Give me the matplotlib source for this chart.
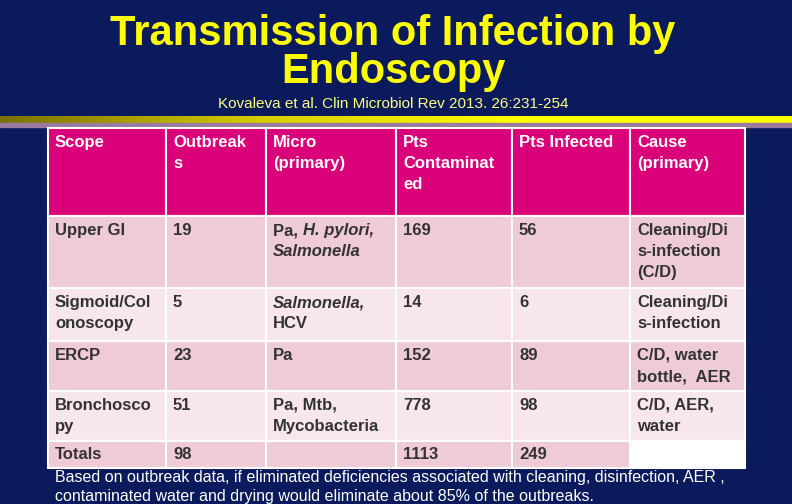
import matplotlib.pyplot as plt
from matplotlib.patches import Rectangle
from matplotlib.colors import LinearSegmentedColormap
import numpy as np

plt.rcParams['font.family'] = ['Liberation Sans', 'DejaVu Sans']

titulo = "Transmission of Infection by\nEndoscopy"
subtitulo = "Kovaleva et al. Clin Microbiol Rev 2013. 26:231-254"
cabecera = ["Scope", "Outbreak\ns", "Micro\n(primary)", "Pts\nContaminat\ned", "Pts Infected", "Cause\n(primary)"]
# cada celda con cursiva: lista de líneas con piezas (texto, cursiva)
filas = [
    ["Upper GI", "19", [[("Pa, ", 0), ("H. pylori,", 1)], [("Salmonella", 1)]], "169", "56", "Cleaning/Di\ns-infection\n(C/D)"],
    ["Sigmoid/Col\nonoscopy", "5", [[("Salmonella,", 1)], [("HCV", 0)]], "14", "6", "Cleaning/Di\ns-infection"],
    ["ERCP", "23", [[("Pa", 0)]], "152", "89", "C/D, water\nbottle,  AER"],
    ["Bronchosco\npy", "51", [[("Pa, Mtb,", 0)], [("Mycobacteria", 0)]], "778", "98", "C/D, AER,\nwater"],
    ["Totals", "98", "", "1113", "249", ""],
]
nota = ("Based on outbreak data, if eliminated deficiencies associated with cleaning, disinfection, AER ,\n"
        "contaminated water and drying would eliminate about 85% of the outbreaks.")

col_x = [48, 166, 266, 396, 512, 630, 745]
fila_y = [128, 216, 288, 341, 391, 441, 468]
colores = ["#eecbd7", "#f7e6ec", "#eecbd7", "#f7e6ec", "#eecbd7"]

fig = plt.figure(figsize=(7.92, 5.04), dpi=100, facecolor="#0b1a5c")
ax = fig.add_axes([0, 0, 1, 1])
ax.axis("off")

ax.text(393, 14, titulo, color="#ffff00", fontsize=30, fontweight="bold",
        ha="center", va="top", linespacing=0.92)
ax.text(393, 104, subtitulo, color="#ffff80", fontsize=11, ha="center", va="center")

# barra degradada
grad = np.linspace(0, 1, 256).reshape(1, -1)
cm = LinearSegmentedColormap.from_list("g", ["#7a7000", "#d8d000", "#ffff00", "#ffff00"])
ax.imshow(grad, cmap=cm, extent=(0, 792, 123, 116), aspect="auto", zorder=1)
ax.add_patch(Rectangle((0, 123), 792, 4, color="#9a7aa0", zorder=1))
ax.set_xlim(0, 792)
ax.set_ylim(504, 0)

lh = 21
def celda(x0, y0, x1, y1, color):
    ax.add_patch(Rectangle((x0, y0), x1 - x0, y1 - y0, facecolor=color,
                           edgecolor="white", lw=1.5, zorder=2))

for j in range(6):
    celda(col_x[j], fila_y[0], col_x[j + 1], fila_y[1], "#d9007a")
    ax.text(col_x[j] + 7, fila_y[0] + 7, cabecera[j], color="white", fontsize=12,
            fontweight="bold", va="top", ha="left", linespacing=1.5, zorder=3)

fig.canvas.draw()
r = fig.canvas.get_renderer()
for i, fila in enumerate(filas):
    for j, val in enumerate(fila):
        color = colores[i]
        if i == 4 and j == 5:
            color = "white"
        celda(col_x[j], fila_y[i + 1], col_x[j + 1], fila_y[i + 2], color)
        x = col_x[j] + 7
        y = fila_y[i + 1] + (7 if i < 4 else 6)
        if isinstance(val, list):
            for k, linea in enumerate(val):
                xx = x
                for txt, it in linea:
                    t = ax.text(xx, y + k * lh, txt, color="#333333", fontsize=12,
                                fontweight="bold", fontstyle="italic" if it else "normal",
                                va="top", ha="left", zorder=3)
                    xx += t.get_window_extent(r).width
        else:
            ax.text(x, y, val, color="#333333", fontsize=12, fontweight="bold",
                    va="top", ha="left", linespacing=1.5, zorder=3)

ax.text(55, 470, nota, color="white", fontsize=11.5, va="top", ha="left", linespacing=1.3)

fig.savefig("out.png", dpi=100, facecolor=fig.get_facecolor())
